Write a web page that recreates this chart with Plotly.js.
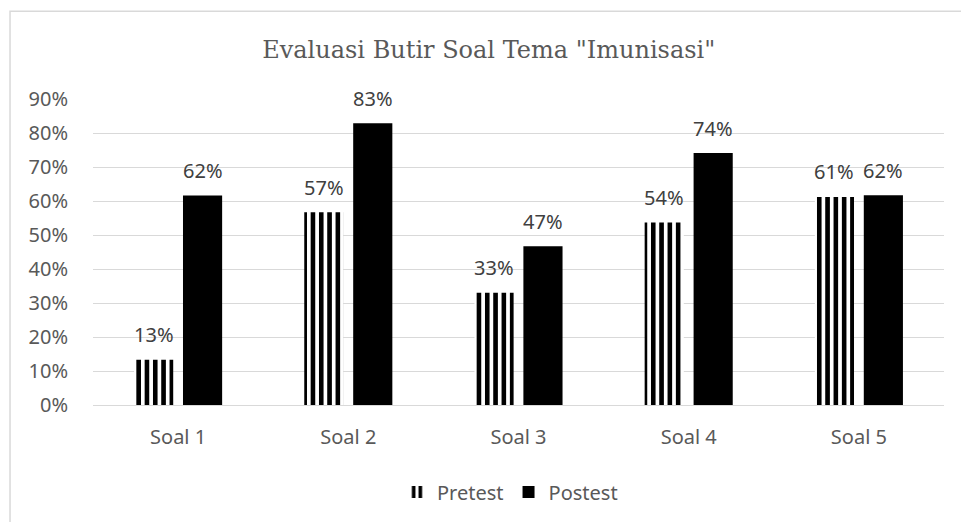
<!DOCTYPE html>
<html>
<head>
<meta charset="utf-8">
<script src="https://cdn.plot.ly/plotly-3.0.1.min.js"></script>
<style>html,body{margin:0;padding:0;background:#fff;}#chart{width:961px;height:522px;}</style>
</head>
<body>
<div id="chart"></div>
<script>
const categories = ["Soal 1", "Soal 2", "Soal 3", "Soal 4", "Soal 5"];
const pretest = [0.133, 0.567, 0.33, 0.537, 0.612];
const postest = [0.616, 0.829, 0.467, 0.741, 0.617];
const yTicks = [0, 0.1, 0.2, 0.3, 0.4, 0.5, 0.6, 0.7, 0.8, 0.9];
const yTickText = ["0%", "10%", "20%", "30%", "40%", "50%", "60%", "70%", "80%", "90%"];

const FONT = "Noto Sans, sans-serif";
const txtFont = {family: FONT, size: 20, color: "#404040"};

const traces = [
  {
    type: "bar", name: "Pretest", x: categories, y: pretest,
    marker: {color: "#ffffff", line: {width: 0},
      pattern: {shape: "|", size: 8.3, solidity: 0.55, fgcolor: "#000000", bgcolor: "#ffffff", fillmode: "replace"}},
    hoverinfo: "skip"
  },
  {
    type: "bar", name: "Postest", x: categories, y: postest,
    marker: {color: "#000000", line: {width: 0}},
    hoverinfo: "skip"
  }
];

// data labels placed at each bar's value via the axes
const annotations = [];
const fmt = v => Math.round(v * 100) + "%";
categories.forEach((c, i) => {
  annotations.push({x: c, y: pretest[i], xref: "x", yref: "y", text: fmt(pretest[i]),
    showarrow: false, xshift: -24.5, yshift: 25, yanchor: "middle", font: txtFont});
  annotations.push({x: c, y: postest[i], xref: "x", yref: "y", text: fmt(postest[i]),
    showarrow: false, xshift: 24.5, yshift: 25, yanchor: "middle", font: txtFont});
});

const layout = {
  width: 961, height: 522,
  paper_bgcolor: "#ffffff", plot_bgcolor: "#ffffff",
  margin: {l: 93, r: 16.5, t: 99, b: 116},
  title: {text: 'Evaluasi Butir Soal Tema "Imunisasi"',
    font: {family: "DejaVu Serif, serif", size: 24, color: "#595959"},
    x: 0.465, xanchor: "center", y: 0.905, yanchor: "middle", xref: "paper"},
  barmode: "group", bargap: 0.425, bargroupgap: 0.2,
  showlegend: true,
  legend: {orientation: "h", x: 0.49, xanchor: "center", y: -0.28, yanchor: "middle",
    font: {family: FONT, size: 20, color: "#595959"}, traceorder: "normal", itemwidth: 30},
  annotations: annotations,
  xaxis: {
    showgrid: false, showline: true, linecolor: "#d9d9d9", linewidth: 1,
    ticks: "", tickfont: {family: FONT, size: 20, color: "#595959"},
    ticklabelstandoff: 14, fixedrange: true
  },
  yaxis: {
    range: [0, 0.9], tickvals: yTicks, ticktext: yTickText,
    showgrid: true, gridcolor: "#d9d9d9", gridwidth: 1, zeroline: false, showline: false,
    ticks: "", tickfont: {family: FONT, size: 20, color: "#595959"},
    ticklabelstandoff: 24, fixedrange: true
  },
  shapes: [{
    type: "rect", xref: "paper", yref: "paper", layer: "below",
    x0: -0.0975, x1: 1.1, y0: -0.6, y1: 1.2866,
    line: {color: "#d9d9d9", width: 1.5}, fillcolor: "rgba(0,0,0,0)"
  }]
};

Plotly.newPlot("chart", traces, layout, {staticPlot: true, displayModeBar: false});
</script>
</body>
</html>
